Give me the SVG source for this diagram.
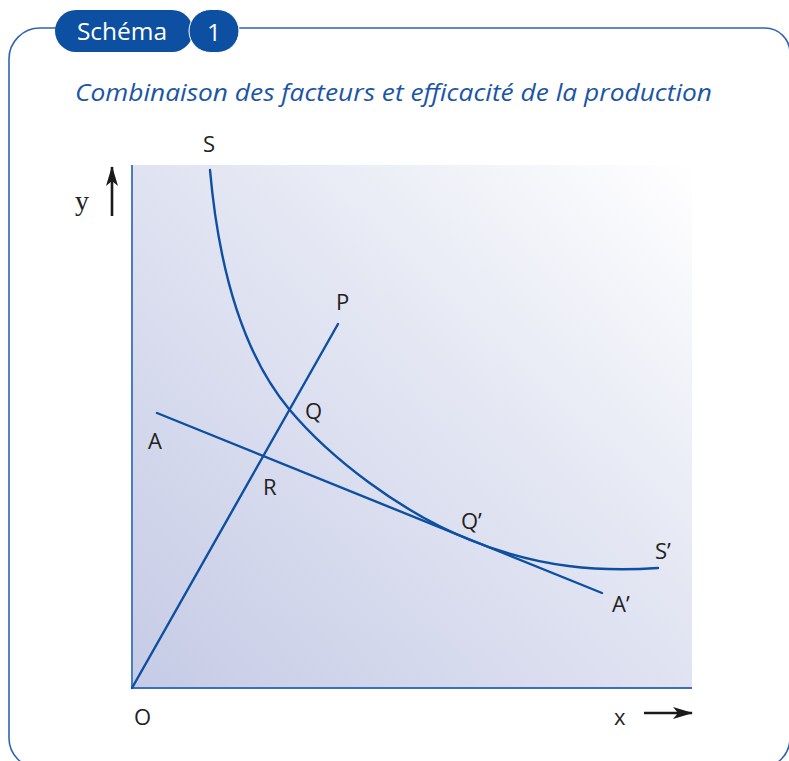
<svg xmlns="http://www.w3.org/2000/svg" width="789" height="761" viewBox="0 0 789 761">
<defs>
<linearGradient id="bg" x1="0" y1="1" x2="1" y2="0">
<stop offset="0" stop-color="#c6cbe6"/>
<stop offset="0.55" stop-color="#e2e5f2"/>
<stop offset="1" stop-color="#ffffff"/>
</linearGradient>
<marker id="ah" viewBox="0 0 20 12" refX="19" refY="6" markerWidth="20" markerHeight="12" markerUnits="userSpaceOnUse" orient="auto">
<path d="M0,0 L20,6 L0,12 L5,6 Z" fill="#1a1a1a"/>
</marker>
</defs>
<style>
.lbl{font-family:"Open Sans","Liberation Sans",sans-serif;font-size:22px;fill:#222;}
.ln{fill:none;stroke:#0d4fa0;stroke-width:2.4;stroke-linecap:round;}
.frame{fill:none;stroke:#2f64b2;stroke-width:1.6;}
.arr{stroke:#1a1a1a;stroke-width:2.6;marker-end:url(#ah);}
</style>
<rect width="789" height="761" fill="#ffffff"/>
<g id="frame">
<path class="frame" d="M60,28 L40,28 A31,31 0 0 0 9,59 L9,738 A30,30 0 0 0 39,768"/>
<path class="frame" d="M236,28 L765,28 A25,25 0 0 1 790,53 L790,738 A30,30 0 0 1 760,768"/>
</g>
<g id="badge">
<rect x="55" y="10" width="138" height="42" rx="21" fill="#0d4fa0"/>
<rect x="189" y="9.5" width="50" height="43" rx="21.5" fill="#0d4fa0" stroke="#ffffff" stroke-width="1"/>
<text x="122" y="39.5" text-anchor="middle" font-family="Open Sans, Liberation Sans, sans-serif" font-size="24.5" fill="#ffffff">Schéma</text>
<text x="214" y="40.5" text-anchor="middle" font-family="Open Sans, Liberation Sans, sans-serif" font-size="24.5" fill="#ffffff">1</text>
</g>
<text id="title" x="75" y="101" font-family="Open Sans, Liberation Sans, sans-serif" font-style="italic" font-size="24" fill="#1b55a6" textLength="637" lengthAdjust="spacingAndGlyphs">Combinaison des facteurs et efficacité de la production</text>
<g id="plot">
<rect x="131" y="165" width="561" height="523" fill="url(#bg)"/>
<line x1="132" y1="165" x2="132" y2="688" stroke="#4a7cc4" stroke-width="2"/>
<line x1="131" y1="688" x2="692" y2="688" stroke="#3a6fbd" stroke-width="2"/>
</g>
<g id="connectors">
<path id="curveS" class="ln" d="M210,170 C218,260 240,350 289,409 C330,458 400,511.7 470,540 C540,568 600,572 658,568"/>
<line id="lineOP" class="ln" x1="132" y1="688" x2="338" y2="324"/>
<line id="lineAA" class="ln" x1="157" y1="413" x2="602" y2="593"/>
<line id="axisY" class="arr" x1="112" y1="216" x2="112" y2="167"/>
<line id="axisX" class="arr" x1="644" y1="713" x2="692" y2="713"/>
</g>
<g id="labels">
<text class="lbl" x="203" y="152">S</text>
<text x="75" y="210" font-family="Liberation Serif, serif" font-size="28" fill="#222">y</text>
<text class="lbl" x="336" y="310">P</text>
<text class="lbl" x="305" y="419">Q</text>
<text class="lbl" x="148" y="449">A</text>
<text class="lbl" x="263" y="495">R</text>
<text class="lbl" x="461" y="529">Q’</text>
<text class="lbl" x="655" y="559">S’</text>
<text class="lbl" x="612" y="612">A’</text>
<text class="lbl" x="134" y="725">O</text>
<text class="lbl" x="614" y="725">x</text>
</g>
</svg>
